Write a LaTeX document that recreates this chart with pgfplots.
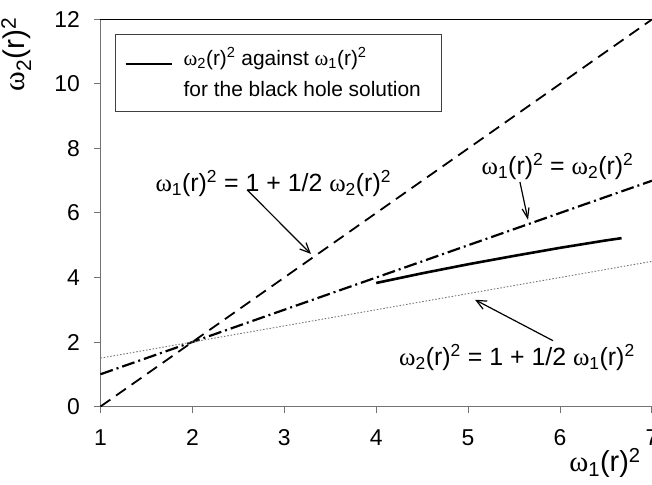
\documentclass[border=0pt]{standalone}
\usepackage{fontspec}
\setmainfont{Liberation Sans}
\newfontfamily\omfont{Liberation Serif}
\usepackage{pgfplots}
\pgfplotsset{compat=1.18}
\usetikzlibrary{arrows.meta}
\newcommand\om[1]{{\omfont ω}\textsubscript{#1}}
\newcommand\rsq{(r)\textsuperscript{2}}
\pgfplotsset{longline/.style={legend image code/.code={\draw[black, line width=2.6bp] (0bp,9bp) -- (46bp,9bp); \path[draw=none] (0bp,0bp) -- (56bp,0bp);}}}
\begin{document}
\begin{tikzpicture}
\begin{axis}[
  name=ax,
  scale only axis,
  x=91.9bp, y=32.25bp,
  xmin=1, xmax=7, ymin=0, ymax=12,
  clip=false,
  axis x line*=bottom, axis y line*=left,
  axis line style={draw=black!55, line width=1bp},
  xtick={1,...,7}, ytick={0,2,...,12},
  tick align=outside, major tick length=6bp,
  tick style={draw=black!55, line width=1bp},
  /pgf/number format/assume math mode=true,
  tick label style={font=\fontsize{23}{27}\selectfont},
  xticklabel style={yshift=-12bp, text height=17bp, text depth=0bp},
  yticklabel style={xshift=-11bp},
  xlabel={\om{1}\rsq}, ylabel={\om{2}\rsq},
  label style={font=\fontsize{29}{34}\selectfont},
  xlabel style={at={(axis description cs:0.986,-0.1667)}, anchor=base east},
  ylabel style={at={(axis description cs:-0.137,1.014)}, anchor=base east, font=\fontsize{30}{34}\selectfont},
  legend style={at={(axis description cs:0.026,0.963)}, anchor=north west,
    draw=black!75, line width=1bp, font=\fontsize{21}{29}\selectfont,
    cells={align=left}, inner ysep=11bp, inner xsep=9bp},
  legend cell align=left,
]
\addplot[black, line width=1.8bp, dash pattern=on 12bp off 7bp, forget plot] coordinates {(1,0) (7,12)};
\addplot[black, line width=2.2bp, dash pattern=on 13bp off 4bp on 2bp off 4bp, forget plot] coordinates {(1,1) (7,7)};
\addplot[black!55, line width=0.9bp, dash pattern=on 1.5bp off 1.8bp, forget plot] coordinates {(1,1.5) (7,4.5)};
\addplot[black, line width=2.6bp, longline]
  coordinates {(4,3.83) (4.5,4.13) (5,4.41) (5.5,4.67) (6,4.92) (6.5,5.15) (6.67,5.22)};
\addlegendentry{\om{2}\rsq{} against \om{1}\rsq\\[3bp]for the black hole solution\hspace*{10bp}}
\draw[black, line width=1bp] (rel axis cs:0,1) -- (rel axis cs:1,1);
\node[font=\fontsize{25}{30}\selectfont] at (axis cs:2.88,6.9) {\om{1}\rsq{} = 1 + 1/2 \om{2}\rsq};
\node[font=\fontsize{25}{30}\selectfont] at (axis cs:5.973,7.43) {\om{1}\rsq{} = \om{2}\rsq};
\node[font=\fontsize{25}{30}\selectfont] at (axis cs:5.532,1.51) {\om{2}\rsq{} = 1 + 1/2 \om{1}\rsq};
\draw[black, line width=1.2bp, -{Straight Barb[length=10bp,width=9bp]}] (axis cs:2.594,6.72) -- (axis cs:3.29,4.73);
\draw[black, line width=1.2bp, -{Straight Barb[length=10bp,width=7bp]}] (axis cs:5.564,6.96) -- (axis cs:5.652,5.79);
\draw[black, line width=1.2bp, -{Straight Barb[length=10bp,width=9bp]}] (axis cs:5.924,2.04) -- (axis cs:5.075,3.31);
\end{axis}
\pgfresetboundingbox
\path[use as bounding box] ([shift={(-100.5bp,-78.3bp)}]ax.south west) rectangle ([shift={(0.1bp,19.5bp)}]ax.north east);
\end{tikzpicture}
\end{document}
